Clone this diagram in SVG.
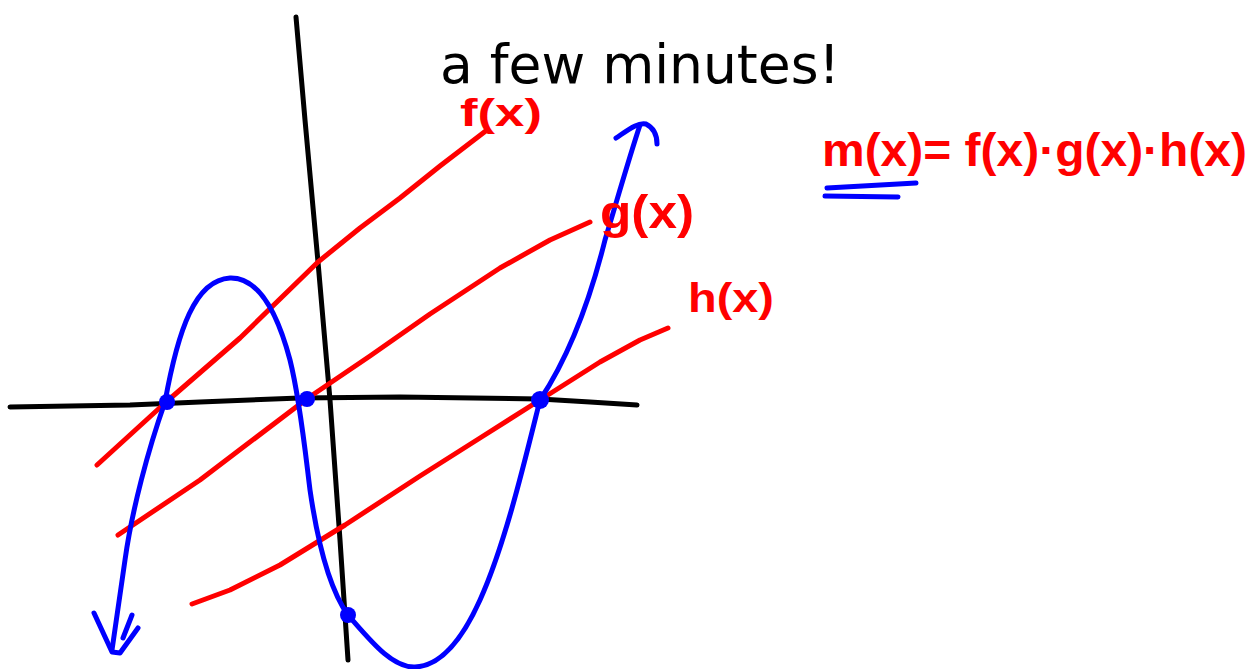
<svg xmlns="http://www.w3.org/2000/svg" width="1258" height="669" viewBox="0 0 1258 669">
<style>
.ax{fill:none;stroke:#000;stroke-width:5;stroke-linecap:round;stroke-linejoin:round}
.red{fill:none;stroke:#ff0000;stroke-width:5;stroke-linecap:round;stroke-linejoin:round}
.blue{fill:none;stroke:#0000ff;stroke-width:5;stroke-linecap:round;stroke-linejoin:round}
.dot{fill:#0000ff}
.lbl{font-family:"Liberation Sans","DejaVu Sans",sans-serif;fill:#ff0000;font-weight:bold}
.title{font-family:"DejaVu Sans","Liberation Sans",sans-serif;fill:#000}
</style>
<rect width="1258" height="669" fill="#fff"/>
<g id="axes">
<path class="ax" d="M10,407 L130,405 L200,402 L300,398 L400,397 L540,399 L590,402 L637,405"/>
<path class="ax" d="M296,17 L305,120 L318,262 L330,400 L340,540 L348,660"/>
</g>
<g id="lines">
<path id="f" class="red" d="M97,465 L165,403 L240,338 L318,262 L360,228 L400,198 L440,166 L487,130"/>
<path id="g" class="red" d="M118,535 L200,480 L308,398 L370,356 L430,314 L500,268 L550,240 L590,222"/>
<path id="h" class="red" d="M192,604 L230,590 L280,565 L345,525 L420,476 L480,438 L540,400 L600,362 L640,340 L668,328"/>
</g>
<g id="curve">
<path class="blue" d="M112,650 L125,560 C132,510 148,450 165,402 C178,330 195,280 230,278 C260,277 278,315 290,360 C300,400 305,450 310,490 C318,545 330,590 348,615 C370,640 392,668 415,667 C440,666 462,640 480,600 C505,545 525,460 540,400 C570,355 590,300 605,240 C620,190 630,155 640,125"/>
<path class="blue" d="M616,138 C628,130 638,122 646,124 C654,128 657,136 657,144"/>
<path class="blue" d="M94,613 L112,652 L120,653 L138,628 M132,615 L123,638"/>
</g>
<g id="points">
<circle class="dot" cx="167" cy="402" r="8"/>
<circle class="dot" cx="307" cy="399" r="8"/>
<circle class="dot" cx="540" cy="400" r="9"/>
<circle class="dot" cx="348" cy="615" r="8"/>
</g>
<g id="labels">
<text class="lbl" x="460" y="126" font-size="38" textLength="82" lengthAdjust="spacingAndGlyphs">f(x)</text>
<text class="lbl" x="600" y="228" font-size="46" textLength="94" lengthAdjust="spacingAndGlyphs">g(x)</text>
<text class="lbl" x="688" y="312" font-size="40" textLength="86" lengthAdjust="spacingAndGlyphs">h(x)</text>
</g>
<g id="title">
<text class="title" x="440" y="83" font-size="54" textLength="400" lengthAdjust="spacingAndGlyphs">a few minutes!</text>
</g>
<g id="formula">
<text class="lbl" x="822" y="166" font-size="47" textLength="425" lengthAdjust="spacingAndGlyphs">m(x)= f(x)·g(x)·h(x)</text>
<path class="blue" d="M827,188 L916,183 M825,196 L898,197" stroke-width="6"/>
</g>
</svg>
